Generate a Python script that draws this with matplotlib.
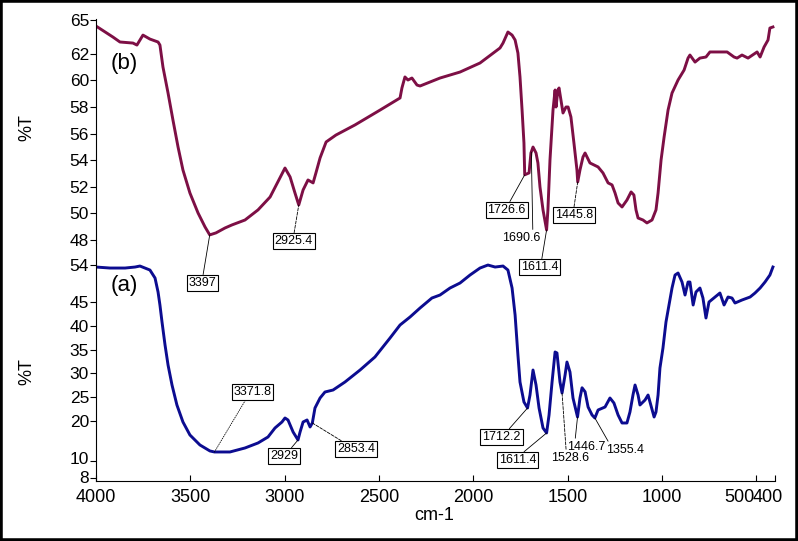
import matplotlib
matplotlib.use('Agg')
import matplotlib.pyplot as plt
from matplotlib.patches import Rectangle
import matplotlib.transforms as mtransforms

plt.rcParams['font.family'] = ['Liberation Sans', 'DejaVu Sans']

# ---- spectrum (b) ----
wn_b = [4000, 3910, 3873, 3804, 3783, 3751, 3714, 3671, 3661, 3645, 3618, 3592, 3565, 3539,
        3502, 3459, 3422, 3397, 3364, 3316, 3279, 3210, 3141, 3077, 2998, 2971, 2945, 2925,
        2902, 2876, 2849, 2834, 2812, 2780, 2728, 2627, 2494, 2388, 2378, 2362, 2346, 2325,
        2298, 2282, 2176, 2070, 1964, 1858, 1842, 1816, 1794, 1778, 1763, 1752, 1741, 1731,
        1727, 1704, 1694, 1683, 1667, 1657, 1646, 1630, 1611, 1604, 1593, 1577, 1566, 1561,
        1551, 1545, 1529, 1524, 1508, 1497, 1482, 1466, 1450, 1446, 1434, 1418, 1407, 1381,
        1338, 1312, 1285, 1264, 1248, 1232, 1211, 1185, 1163, 1148, 1137, 1126, 1100, 1079,
        1052, 1031, 1020, 1004, 988, 967, 946, 914, 882, 861, 851, 824, 798, 766, 745, 692,
        654, 617, 601, 575, 543, 495, 479, 458, 437, 427, 411]
t_b = [64.09, 63.26, 62.89, 62.81, 62.66, 63.41, 63.11, 62.89, 62.66, 61.01, 59.05, 57.02, 54.99, 53.26,
       51.53, 50.03, 48.98, 48.38, 48.53, 48.90, 49.13, 49.50, 50.26, 51.23, 53.41, 52.74, 51.53, 50.63,
       51.76, 52.51, 52.29, 53.04, 54.17, 55.37, 55.89, 56.65, 57.77, 58.68, 59.43, 60.26, 60.03, 60.18,
       59.65, 59.58, 60.18, 60.63, 61.31, 62.44, 62.81, 63.64, 63.41, 63.04, 62.06, 60.26, 57.77, 55.29,
       52.90, 53.04, 54.54, 54.99, 54.54, 53.79, 51.98, 50.26, 48.75, 50.26, 54.02, 57.77, 59.28, 58.00,
       59.28, 59.43, 58.00, 57.55, 58.00, 58.00, 57.25, 55.29, 53.26, 52.36, 53.26, 54.24, 54.54, 53.79,
       53.49, 53.04, 52.29, 52.14, 51.53, 50.78, 50.48, 51.00, 51.61, 51.38, 50.26, 49.65, 49.50, 49.28,
       49.50, 50.26, 51.53, 54.02, 55.74, 57.77, 59.05, 60.03, 60.78, 61.68, 61.91, 61.38, 61.68, 61.76, 62.14, 62.14,
       62.14, 61.76, 61.68, 61.91, 61.68, 62.14, 61.76, 62.51, 63.04, 63.94, 64.02]

# ---- spectrum (a) ----
wn_a = [4000, 3926, 3846, 3793, 3767, 3740, 3714, 3687, 3671, 3661, 3650, 3634, 3618, 3597,
        3571, 3539, 3502, 3449, 3396, 3372, 3353, 3290, 3210, 3141, 3088, 3051, 3014, 2998,
        2982, 2971, 2955, 2929, 2918, 2902, 2881, 2865, 2853, 2839, 2812, 2786, 2743, 2680,
        2600, 2521, 2441, 2388, 2335, 2282, 2219, 2176, 2123, 2070, 2017, 1964, 1922, 1884,
        1842, 1816, 1794, 1778, 1763, 1752, 1731, 1712, 1699, 1683, 1667, 1651, 1630, 1611,
        1598, 1582, 1566, 1556, 1540, 1529, 1513, 1503, 1487, 1471, 1447, 1434, 1423, 1407,
        1391, 1370, 1355, 1338, 1301, 1275, 1254, 1232, 1211, 1185, 1169, 1153, 1142, 1126,
        1116, 1089, 1073, 1063, 1041, 1031, 1020, 1010, 994, 978, 962, 946, 930, 914, 893,
        877, 861, 851, 834, 819, 798, 782, 766, 750, 718, 692, 670, 649, 628, 612, 575, 532,
        506, 479, 453, 427, 411]
t_a = [52.35, 52.14, 52.14, 52.35, 52.56, 52.14, 51.72, 50.04, 47.10, 44.37, 40.80, 35.97, 31.76, 27.56,
       23.36, 19.79, 17.06, 14.96, 13.70, 13.49, 13.49, 13.49, 14.33, 15.38, 16.64, 18.53, 19.79, 20.63,
       20.21, 19.16, 17.69, 16.01, 17.69, 19.79, 20.21, 18.74, 19.58, 22.73, 24.83, 26.09, 26.51, 28.19,
       30.71, 33.45, 37.44, 40.17, 41.85, 43.74, 45.84, 46.47, 47.94, 48.99, 50.67, 52.14, 52.77, 52.35,
       52.56, 51.72, 47.94, 42.27, 33.87, 28.19, 23.99, 22.73, 25.46, 30.71, 27.56, 22.73, 18.53, 17.48,
       21.26, 28.19, 34.50, 34.29, 28.19, 25.88, 29.66, 32.39, 30.29, 24.83, 20.84, 24.83, 26.98, 26.14,
       22.94, 21.26, 20.63, 22.31, 22.94, 24.83, 23.78, 21.26, 19.58, 19.58, 21.89, 25.46, 27.56, 25.46,
       23.36, 24.41, 25.46, 23.99, 20.84, 21.89, 25.46, 31.13, 35.34, 40.80, 44.37, 47.94, 50.67, 51.09, 49.20,
       46.47, 49.20, 49.20, 44.37, 47.10, 47.94, 45.84, 41.64, 45.00, 46.05, 46.89, 44.37, 46.05, 45.84, 44.79, 45.42, 46.05,
       46.89, 47.94, 49.20, 50.67, 52.35]

# ---- ticks ----
x_ticks = [4000, 3500, 3000, 2500, 2000, 1500, 1000, 500, 400]
x_tick_labels = ['4000', '3500', '3000', '2500', '2000', '1500', '1000', '500', '400']
b_ticks = [64.54, 62, 60, 58, 56, 54, 52, 50, 48]
b_tick_labels = ['65', '62', '60', '58', '56', '54', '52', '50', '48']
a_ticks = [52.77, 45, 40, 35, 30, 25, 20, 11.6, 8.03]
a_tick_labels = ['54', '45', '40', '35', '30', '25', '20', '10', '8']

# ---- peak labels: (label, wavenumber, %T, boxed) ----
peaks_b = [('3397', 3397, 48.38, True), ('2925.4', 2925, 50.63, True),
           ('1726.6', 1727, 52.9, True), ('1690.6', 1692, 54.6, False),
           ('1611.4', 1611, 48.75, True), ('1445.8', 1446, 52.36, True)]
peaks_a = [('3371.8', 3372, 13.49, True), ('2929', 2929, 16.01, True),
           ('2853.4', 2853, 19.58, True), ('1712.2', 1712, 22.73, True),
           ('1611.4', 1611, 17.48, True), ('1528.6', 1529, 25.88, False),
           ('1446.7', 1447, 20.84, False), ('1355.4', 1355, 20.63, False)]
# label offsets in pixels, relpos, linestyle
lay_b = [((-7, -48), (0.5, 1), '-'), ((-5, -36), (0.5, 1), '--'),
         ((-18, -35), (0.55, 1), '-'), ((-10, -86), (0.8, 1), '-'),
         ((-7, -37), (0.55, 1), '-'), ((-4, -33), (0.5, 1), '--')]
lay_a = [((38, 60), (0.35, 0), ':'), ((-14, -16), (0.7, 1), '-'),
         ((44, -26), (0.2, 1), '--'), ((-26, -29), (0.65, 1), '-'),
         ((-29, -27), (0.6, 1), '-'), ((8, -65), (0.4, 1), '--'),
         ((9, -30), (0.2, 1), '-'), ((30, -32), (0.1, 1), '-')]

col_b = '#7d0f45'
col_a = '#0c0c90'

fig = plt.figure(figsize=(7.98, 5.41), dpi=100)
W, H = 798.0, 541.0
ax_b = fig.add_axes([96 / W, 1 - 243 / H, 679 / W, 224 / H])
ax_a = fig.add_axes([96 / W, 1 - 481 / H, 679 / W, 238 / H])
for ax in (ax_b, ax_a):
    ax.patch.set_visible(False)
    ax.set_xlim(4000, 400)
    ax.spines['top'].set_visible(False)
    ax.spines['right'].set_visible(False)
    ax.tick_params(axis='y', direction='out', length=4, pad=1, labelsize=12.5)
ax_b.spines['bottom'].set_visible(False)
ax_b.set_xticks([])
ax_b.set_ylim(47.77, 64.62)
ax_a.set_ylim(7.39, 57.4)
ax_b.set_yticks(b_ticks)
ax_b.set_yticklabels(b_tick_labels)
ax_a.set_yticks(a_ticks)
ax_a.set_yticklabels(a_tick_labels)
ax_a.set_xticks(x_ticks)
ax_a.set_xticklabels(x_tick_labels)
ax_a.tick_params(axis='x', direction='in', length=4, pad=6, labelsize=13)
for lab, dx in zip(ax_a.get_xticklabels(), [0, 0, 0, 0, 0, 0, 0, -17, -7]):
    if dx:
        lab.set_transform(lab.get_transform() + mtransforms.ScaledTranslation(dx / 100, 0, fig.dpi_scale_trans))
for lab, dy in zip(ax_a.get_yticklabels(), [0, 0, 0, 0, 0, 0, 0, 3, 1]):
    if dy:
        lab.set_transform(lab.get_transform() + mtransforms.ScaledTranslation(0, dy / 100, fig.dpi_scale_trans))

ax_b.plot(wn_b, t_b, color=col_b, lw=2.1, solid_joinstyle='round')
ax_a.plot(wn_a, t_a, color=col_a, lw=2.1, solid_joinstyle='round')

def label_peaks(ax, peaks, lay):
    for (txt, w, t, boxed), (off, rp, ls) in zip(peaks, lay):
        bbox = dict(boxstyle='square,pad=0.15', fc='white', ec='black', lw=0.8) if boxed else None
        ax.annotate(txt, xy=(w, t), xytext=off, textcoords='offset pixels',
                    ha='center', va='center', fontsize=9, bbox=bbox,
                    annotation_clip=False,
                    arrowprops=dict(arrowstyle='-', color='black', lw=0.6, ls=ls,
                                    shrinkA=0, shrinkB=0, relpos=rp))

label_peaks(ax_b, peaks_b, lay_b)
label_peaks(ax_a, peaks_a, lay_a)

fig.text(124 / W, 1 - 63 / H, '(b)', fontsize=16, ha='center', va='center')
fig.text(124 / W, 1 - 286 / H, '(a)', fontsize=16, ha='center', va='center')
fig.text(27 / W, 1 - 128 / H, '%T', fontsize=13, rotation=90, ha='center', va='center')
fig.text(27 / W, 1 - 372 / H, '%T', fontsize=13, rotation=90, ha='center', va='center')
fig.text(434 / W, 1 - 515 / H, 'cm-1', fontsize=13, ha='center', va='center')

fig.patches.append(Rectangle((0, 0), 1, 1, transform=fig.transFigure, fill=False,
                             lw=4, ec='black'))

fig.savefig('out.png', dpi=100)
